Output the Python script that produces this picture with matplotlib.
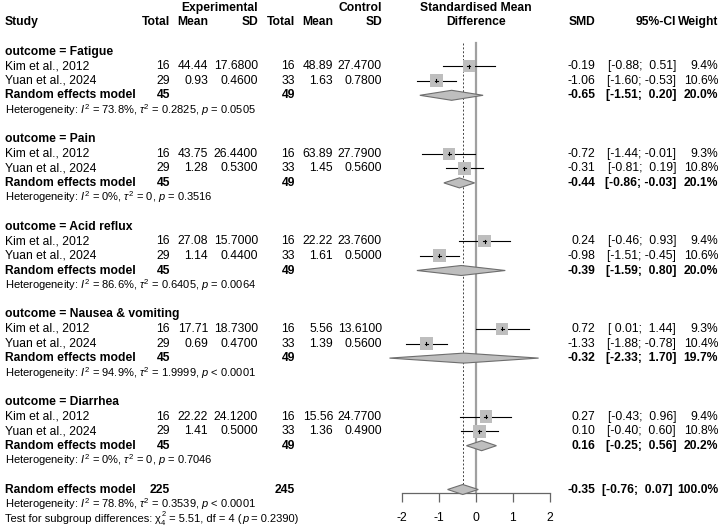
import matplotlib
matplotlib.use('Agg')
import matplotlib.pyplot as plt
from matplotlib.patches import Rectangle, Polygon
from matplotlib.transforms import offset_copy

plt.rcParams['font.family'] = ['Liberation Sans', 'DejaVu Sans']
plt.rcParams['mathtext.fontset'] = 'custom'
plt.rcParams['mathtext.rm'] = 'Liberation Sans'
plt.rcParams['mathtext.it'] = 'Liberation Sans:italic'
plt.rcParams['mathtext.bf'] = 'Liberation Sans:bold'
plt.rcParams['mathtext.sf'] = 'Liberation Sans'
plt.rcParams['axes.unicode_minus'] = False

# ---------------- data ----------------
outcomes = ["Fatigue", "Pain", "Acid reflux", "Nausea & vomiting", "Diarrhea"]
studies = ["Kim et al., 2012", "Yuan et al., 2024"]

exp_total = [[16, 29], [16, 29], [16, 29], [16, 29], [16, 29]]
exp_mean = [[44.44, 0.93], [43.75, 1.28], [27.08, 1.14], [17.71, 0.69], [22.22, 1.41]]
exp_sd = [[17.68, 0.46], [26.44, 0.53], [15.70, 0.44], [18.73, 0.47], [24.12, 0.50]]
ctl_total = [[16, 33], [16, 33], [16, 33], [16, 33], [16, 33]]
ctl_mean = [[48.89, 1.63], [63.89, 1.45], [22.22, 1.61], [5.56, 1.39], [15.56, 1.36]]
ctl_sd = [[27.47, 0.78], [27.79, 0.56], [23.76, 0.50], [13.61, 0.56], [24.77, 0.49]]

smd = [[-0.19, -1.06], [-0.72, -0.31], [0.24, -0.98], [0.72, -1.33], [0.27, 0.10]]
ci_lo = [[-0.88, -1.60], [-1.44, -0.81], [-0.46, -1.51], [0.01, -1.88], [-0.43, -0.40]]
ci_hi = [[0.51, -0.53], [-0.01, 0.19], [0.93, -0.45], [1.44, -0.78], [0.96, 0.60]]
weight = [[9.4, 10.6], [9.3, 10.8], [9.4, 10.6], [9.3, 10.4], [9.4, 10.8]]

sub_exp_total = [45, 45, 45, 45, 45]
sub_ctl_total = [49, 49, 49, 49, 49]
sub_smd = [-0.65, -0.44, -0.39, -0.32, 0.16]
sub_lo = [-1.51, -0.86, -1.59, -2.33, -0.25]
sub_hi = [0.20, -0.03, 0.80, 1.70, 0.56]
sub_weight = [20.0, 20.1, 20.0, 19.7, 20.2]
sub_i2 = ["73.8%", "0%", "86.6%", "94.9%", "0%"]
sub_tau2 = ["0.2825", "0", "0.6405", "1.9999", "0"]
sub_p = ["= 0.0505", "= 0.3516", "= 0.0064", "< 0.0001", "= 0.7046"]

all_exp_total = 225
all_ctl_total = 245
all_smd = -0.35
all_lo = -0.76
all_hi = 0.07
all_weight = 100.0
all_i2 = "78.8%"
all_tau2 = "0.3539"
all_p = "< 0.0001"
subgroup_chi2 = "5.51"
subgroup_df = 4
subgroup_p = "0.2390"

x_ticks = [-2, -1, 0, 1, 2]

# ---------------- layout ----------------
W, H = 722, 527
ROW0, ROWH = 7.7, 14.6
X0, PXU = 475.7, 37.0
FS = 8.7
FS_SMALL = 8.0

fig = plt.figure(figsize=(W / 100, H / 100), dpi=100)
ylim = ((H - ROW0) / ROWH, -ROW0 / ROWH)

tax = fig.add_axes([0, 0, 1, 1])
tax.set_xlim(0, W)
tax.set_ylim(*ylim)
tax.axis('off')

fax = fig.add_axes([0, 0, 1, 1])
fax.patch.set_alpha(0)
fax.set_xlim(-X0 / PXU, (W - X0) / PXU)
fax.set_ylim(*ylim)
for s in ['top', 'left', 'right']:
    fax.spines[s].set_visible(False)
axis_r = (493 - ROW0) / ROWH
fax.spines['bottom'].set_position(('data', axis_r))
fax.spines['bottom'].set_bounds(x_ticks[0], x_ticks[-1])
fax.spines['bottom'].set_color('#666666')
fax.spines['bottom'].set_linewidth(0.9)
fax.set_xticks(x_ticks)
fax.set_xticklabels([str(t) for t in x_ticks])
fax.set_yticks([])
fax.tick_params(axis='x', direction='out', length=6.5, width=0.9, color='#666666',
                pad=7.5, labelsize=FS, labelcolor='black')

col_x = dict(study=5, te=170, me=208, se=258, tc=295, mc=333, sc=382,
             smd=595, ci=676, w=718)


def txt(x, r, s, ha='right', bold=False, size=FS):
    return tax.text(x, r, s, ha=ha, va='center', fontsize=size,
                    fontweight='bold' if bold else 'normal', color='black')


# headers
txt(col_x['se'], 0, "Experimental", bold=True)
txt(col_x['sc'], 0, "Control", bold=True)
txt(X0, 0, "Standardised Mean", ha='center', bold=True)
txt(col_x['study'], 1, "Study", ha='left', bold=True)
txt(col_x['te'], 1, "Total", bold=True)
txt(col_x['me'], 1, "Mean", bold=True)
txt(col_x['se'], 1, "SD", bold=True)
txt(col_x['tc'], 1, "Total", bold=True)
txt(col_x['mc'], 1, "Mean", bold=True)
txt(col_x['sc'], 1, "SD", bold=True)
txt(X0, 1, "Difference", ha='center', bold=True)
txt(col_x['smd'], 1, "SMD", bold=True)
txt(col_x['ci'], 1, "95%-CI", bold=True)
txt(col_x['w'], 1, "Weight", bold=True)

SQ = 12.3  # px side at weight 9.4
DH = 5.0 / ROWH  # diamond half-height in rows


def ci_str(lo, hi):
    return f"[{lo:5.2f}; {hi:5.2f}]"


def square(est, lo, hi, w, r):
    fax.plot([lo, hi], [r, r], color='black', lw=0.8, zorder=2)
    side = SQ * (w / 9.4) ** 0.5
    fax.add_patch(Rectangle((est - side / 2 / PXU, r - side / 2 / ROWH),
                            side / PXU, side / ROWH, facecolor='#bebebe',
                            edgecolor='none', zorder=3))
    fax.plot([est, est], [r - 1.5 / ROWH, r + 1.5 / ROWH], color='black', lw=0.8, zorder=4)
    fax.plot([est - 1.5 / PXU, est + 1.5 / PXU], [r, r], color='black', lw=0.8, zorder=4)


def diamond(est, lo, hi, r):
    fax.add_patch(Polygon([(lo, r), (est, r - DH), (hi, r), (est, r + DH)],
                          closed=True, facecolor='#bebebe', edgecolor='#6e6e6e',
                          lw=0.8, zorder=3))


for b, name in enumerate(outcomes):
    base = 3 + 6 * b
    txt(col_x['study'], base, f"outcome = {name}", ha='left', bold=True)
    for i, st in enumerate(studies):
        r = base + 1 + i
        txt(col_x['study'], r, st, ha='left')
        txt(col_x['te'], r, f"{exp_total[b][i]}")
        txt(col_x['me'], r, f"{exp_mean[b][i]:.2f}")
        txt(col_x['se'], r, f"{exp_sd[b][i]:.4f}")
        txt(col_x['tc'], r, f"{ctl_total[b][i]}")
        txt(col_x['mc'], r, f"{ctl_mean[b][i]:.2f}")
        txt(col_x['sc'], r, f"{ctl_sd[b][i]:.4f}")
        txt(col_x['smd'], r, f"{smd[b][i]:.2f}")
        txt(col_x['ci'], r, ci_str(ci_lo[b][i], ci_hi[b][i]))
        txt(col_x['w'], r, f"{weight[b][i]:.1f}%")
        square(smd[b][i], ci_lo[b][i], ci_hi[b][i], weight[b][i], r)
    r = base + 3
    txt(col_x['study'], r, "Random effects model", ha='left', bold=True)
    txt(col_x['te'], r, f"{sub_exp_total[b]}", bold=True)
    txt(col_x['tc'], r, f"{sub_ctl_total[b]}", bold=True)
    txt(col_x['smd'], r, f"{sub_smd[b]:.2f}", bold=True)
    txt(col_x['ci'], r, ci_str(sub_lo[b], sub_hi[b]), bold=True)
    txt(col_x['w'], r, f"{sub_weight[b]:.1f}%", bold=True)
    diamond(sub_smd[b], sub_lo[b], sub_hi[b], r)
    txt(col_x['study'], base + 4,
        rf"Heterogeneity: $I^2$ = {sub_i2[b]}, $\tau^2$ = {sub_tau2[b]}, $p$ {sub_p[b]}",
        ha='left', size=FS_SMALL)

# overall
r = 33
txt(col_x['study'], r, "Random effects model", ha='left', bold=True)
txt(col_x['te'], r, f"{all_exp_total}", bold=True)
txt(col_x['tc'], r, f"{all_ctl_total}", bold=True)
txt(col_x['smd'], r, f"{all_smd:.2f}", bold=True)
txt(col_x['ci'] - 3, r, ci_str(all_lo, all_hi), bold=True)
txt(col_x['w'], r, f"{all_weight:.1f}%", bold=True)
diamond(all_smd, all_lo, all_hi, r)
txt(col_x['study'], 34,
    rf"Heterogeneity: $I^2$ = {all_i2}, $\tau^2$ = {all_tau2}, $p$ {all_p}",
    ha='left', size=FS_SMALL)

# test line drawn as a chain of pieces (chi with stacked super/subscript)
renderer = fig.canvas.get_renderer()
test_r = 35.05
pieces = [
    ("Test for subgroup differences: ", FS_SMALL, 'normal', 0, 0),
    ("χ", FS_SMALL, 'normal', 0, 0),
    ("2", FS_SMALL * 0.68, 'normal', 3.6, 0),
    (f" = {subgroup_chi2}, df = {subgroup_df} (", FS_SMALL, 'normal', 0, 0),
    ("p", FS_SMALL, 'italic', 0, 0),
    (f" = {subgroup_p})", FS_SMALL, 'normal', 0, 0),
]
xpos = col_x['study']
for k, (s, size, style, dy, _) in enumerate(pieces):
    t = tax.text(xpos, test_r, s, ha='left', va='center', fontsize=size,
                 fontstyle=style, color='black',
                 transform=offset_copy(tax.transData, fig=fig, y=dy, units='points'))
    wdt = t.get_window_extent(renderer).width
    if s == "2":
        tax.text(xpos, test_r, f"{subgroup_df}", ha='left', va='center',
                 fontsize=size, color='black',
                 transform=offset_copy(tax.transData, fig=fig, y=-2.6, units='points'))
    xpos += wdt + (1 if s == "2" else 0)

# reference lines
top_r = (43 - ROW0) / ROWH
fax.plot([0, 0], [top_r, axis_r], color='#a0a0a0', lw=1.6, zorder=1)
fax.plot([all_smd, all_smd], [top_r, 33], color='#444444', lw=0.7,
         ls=(0, (2, 2)), zorder=1)

fig.savefig('out.png', dpi=100)
